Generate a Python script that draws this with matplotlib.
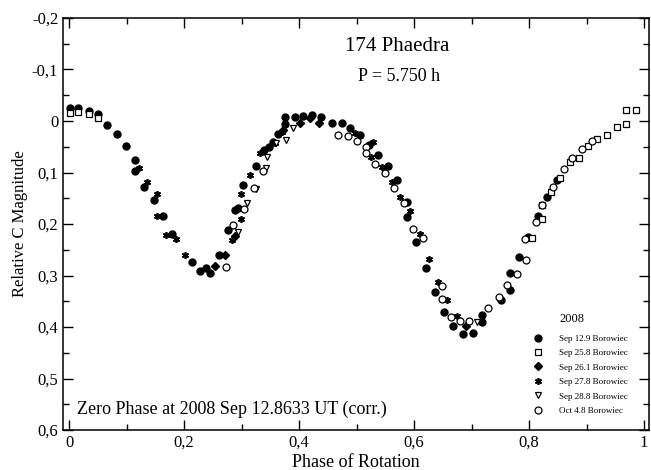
import matplotlib
matplotlib.use("Agg")
import matplotlib.pyplot as plt
from matplotlib.ticker import MultipleLocator, FuncFormatter

plt.rcParams['font.family'] = ['Liberation Serif', 'DejaVu Serif']

# Sep 12.9 Borowiec (filled circles)
sep12_phase = [0.001, 0.016, 0.034, 0.050, 0.066, 0.083, 0.099, 0.115, 0.115, 0.130,
               0.148, 0.164, 0.179, 0.214, 0.228, 0.238, 0.245, 0.261, 0.277, 0.289,
               0.294, 0.303, 0.326, 0.339, 0.348, 0.355, 0.364, 0.376, 0.376, 0.393,
               0.407, 0.422, 0.439, 0.457, 0.474, 0.489, 0.506, 0.521, 0.538, 0.554,
               0.570, 0.587, 0.587, 0.603, 0.620, 0.637, 0.652, 0.668, 0.686, 0.702,
               0.718, 0.718, 0.751, 0.767, 0.767, 0.783, 0.799, 0.816, 0.832, 0.848]
sep12_mag = [-0.025, -0.025, -0.019, -0.013, 0.008, 0.026, 0.049, 0.076, 0.098, 0.129,
             0.153, 0.184, 0.219, 0.273, 0.291, 0.285, 0.296, 0.260, 0.212, 0.173,
             0.168, 0.124, 0.087, 0.056, 0.050, 0.040, 0.025, -0.008, 0.006, -0.007,
             -0.010, -0.012, -0.008, 0.004, 0.004, 0.014, 0.027, 0.047, 0.066, 0.087,
             0.115, 0.157, 0.187, 0.234, 0.286, 0.333, 0.370, 0.398, 0.414, 0.411,
             0.377, 0.390, 0.348, 0.328, 0.296, 0.265, 0.226, 0.184, 0.148, 0.115]

# Sep 25.8 Borowiec (open squares)
sep25_phase = [0.001, 0.016, 0.034, 0.050, 0.805, 0.822, 0.823, 0.838, 0.854, 0.871,
               0.887, 0.903, 0.919, 0.936, 0.953, 0.969, 0.969, 0.986]
sep25_mag = [-0.016, -0.017, -0.014, -0.006, 0.227, 0.191, 0.164, 0.137, 0.111, 0.079,
             0.072, 0.049, 0.034, 0.027, 0.011, 0.006, -0.021, -0.021]

# Sep 26.1 Borowiec (diamonds)
sep26_phase = [0.254, 0.271, 0.289, 0.372, 0.402, 0.419, 0.435, 0.690]
sep26_mag = [0.282, 0.260, 0.223, 0.017, 0.003, -0.005, 0.003, 0.399]

# Sep 27.8 Borowiec (asterisks)
sep27_phase = [0.121, 0.136, 0.153, 0.153, 0.169, 0.186, 0.202, 0.283, 0.299, 0.299,
               0.315, 0.332, 0.358, 0.370, 0.497, 0.529, 0.526, 0.544, 0.561, 0.576,
               0.593, 0.610, 0.626, 0.641, 0.658, 0.674]
sep27_mag = [0.092, 0.118, 0.142, 0.184, 0.221, 0.229, 0.260, 0.231, 0.190, 0.142,
             0.105, 0.063, 0.043, 0.021, 0.024, 0.040, 0.069, 0.089, 0.118, 0.147,
             0.174, 0.219, 0.267, 0.312, 0.348, 0.379]

# Sep 28.8 Borowiec (open triangles)
sep28_phase = [0.294, 0.310, 0.325, 0.343, 0.344, 0.360, 0.377, 0.390, 0.709]
sep28_mag = [0.215, 0.160, 0.133, 0.092, 0.070, 0.043, 0.037, 0.014, 0.390]

# Oct 4.8 Borowiec (open circles)
oct4_phase = [0.273, 0.286, 0.305, 0.321, 0.337, 0.468, 0.485, 0.500, 0.517, 0.517,
              0.533, 0.550, 0.565, 0.583, 0.599, 0.615, 0.648, 0.648, 0.664, 0.680,
              0.696, 0.729, 0.747, 0.762, 0.779, 0.794, 0.793, 0.812, 0.822, 0.842,
              0.860, 0.875, 0.892, 0.909]
oct4_mag = [0.284, 0.202, 0.171, 0.131, 0.097, 0.027, 0.030, 0.039, 0.050, 0.062,
            0.083, 0.100, 0.131, 0.160, 0.210, 0.228, 0.320, 0.346, 0.380, 0.388,
            0.388, 0.363, 0.342, 0.318, 0.297, 0.269, 0.230, 0.197, 0.163, 0.128,
            0.093, 0.072, 0.054, 0.039]

fig = plt.figure(figsize=(6.51, 4.70), dpi=100)
ax = fig.add_axes([63/651, 1 - 430/470, 586/651, 412/470])

ax.plot(sep12_phase, sep12_mag, 'o', color='black', ms=5, label='Sep 12.9 Borowiec')
ax.plot(sep25_phase, sep25_mag, 's', mfc='white', mec='black', mew=0.9, ms=4.5,
        label='Sep 25.8 Borowiec')
ax.plot(sep26_phase, sep26_mag, 'D', color='black', ms=4, label='Sep 26.1 Borowiec')
ax.plot(sep27_phase, sep27_mag, marker=(6, 2, 0), ls='none', color='black', mew=1.2,
        ms=5, label='Sep 27.8 Borowiec')
ax.plot(sep28_phase, sep28_mag, 'v', mfc='white', mec='black', mew=0.9, ms=5,
        label='Sep 28.8 Borowiec')
ax.plot(oct4_phase, oct4_mag, 'o', mfc='white', mec='black', mew=0.9, ms=5,
        label='Oct 4.8 Borowiec')

ax.set_xlim(-0.0105, 1.0087)
ax.set_ylim(0.6, -0.2)

def comma_fmt(v, pos):
    s = "%g" % round(v, 3)
    return s.replace('.', ',')

ax.xaxis.set_major_locator(MultipleLocator(0.2))
ax.xaxis.set_minor_locator(MultipleLocator(0.1))
ax.yaxis.set_major_locator(MultipleLocator(0.1))
ax.yaxis.set_minor_locator(MultipleLocator(0.05))
ax.xaxis.set_major_formatter(FuncFormatter(comma_fmt))
ax.yaxis.set_major_formatter(FuncFormatter(comma_fmt))
ax.tick_params(which='both', direction='in', top=True, right=True, labelsize=12)
ax.tick_params(which='major', length=7, width=1)
ax.tick_params(which='minor', length=4, width=1)
for sp in ax.spines.values():
    sp.set_linewidth(1.1)

ax.set_xlabel("Phase of Rotation", fontsize=13, labelpad=2)
ax.set_ylabel("Relative C Magnitude", fontsize=12, labelpad=3)

ax.text(0.570, 0.932, "174 Phaedra", transform=ax.transAxes, ha='center', va='center',
        fontsize=15)
ax.text(0.573, 0.857, "P = 5.750 h", transform=ax.transAxes, ha='center', va='center',
        fontsize=13)
ax.text(0.024, 0.051, "Zero Phase at 2008 Sep 12.8633 UT (corr.)", transform=ax.transAxes,
        ha='left', va='center', fontsize=13)
ax.text(0.847, 0.270, "2008", transform=ax.transAxes, ha='left', va='center', fontsize=9)

ax.legend(loc='upper left', bbox_to_anchor=(0.801, 0.232), frameon=False, fontsize=6.5,
          handlelength=1.2, handletextpad=1.7, labelspacing=0.68, borderpad=0,
          borderaxespad=0, numpoints=1)

fig.savefig("out.png", dpi=100)
